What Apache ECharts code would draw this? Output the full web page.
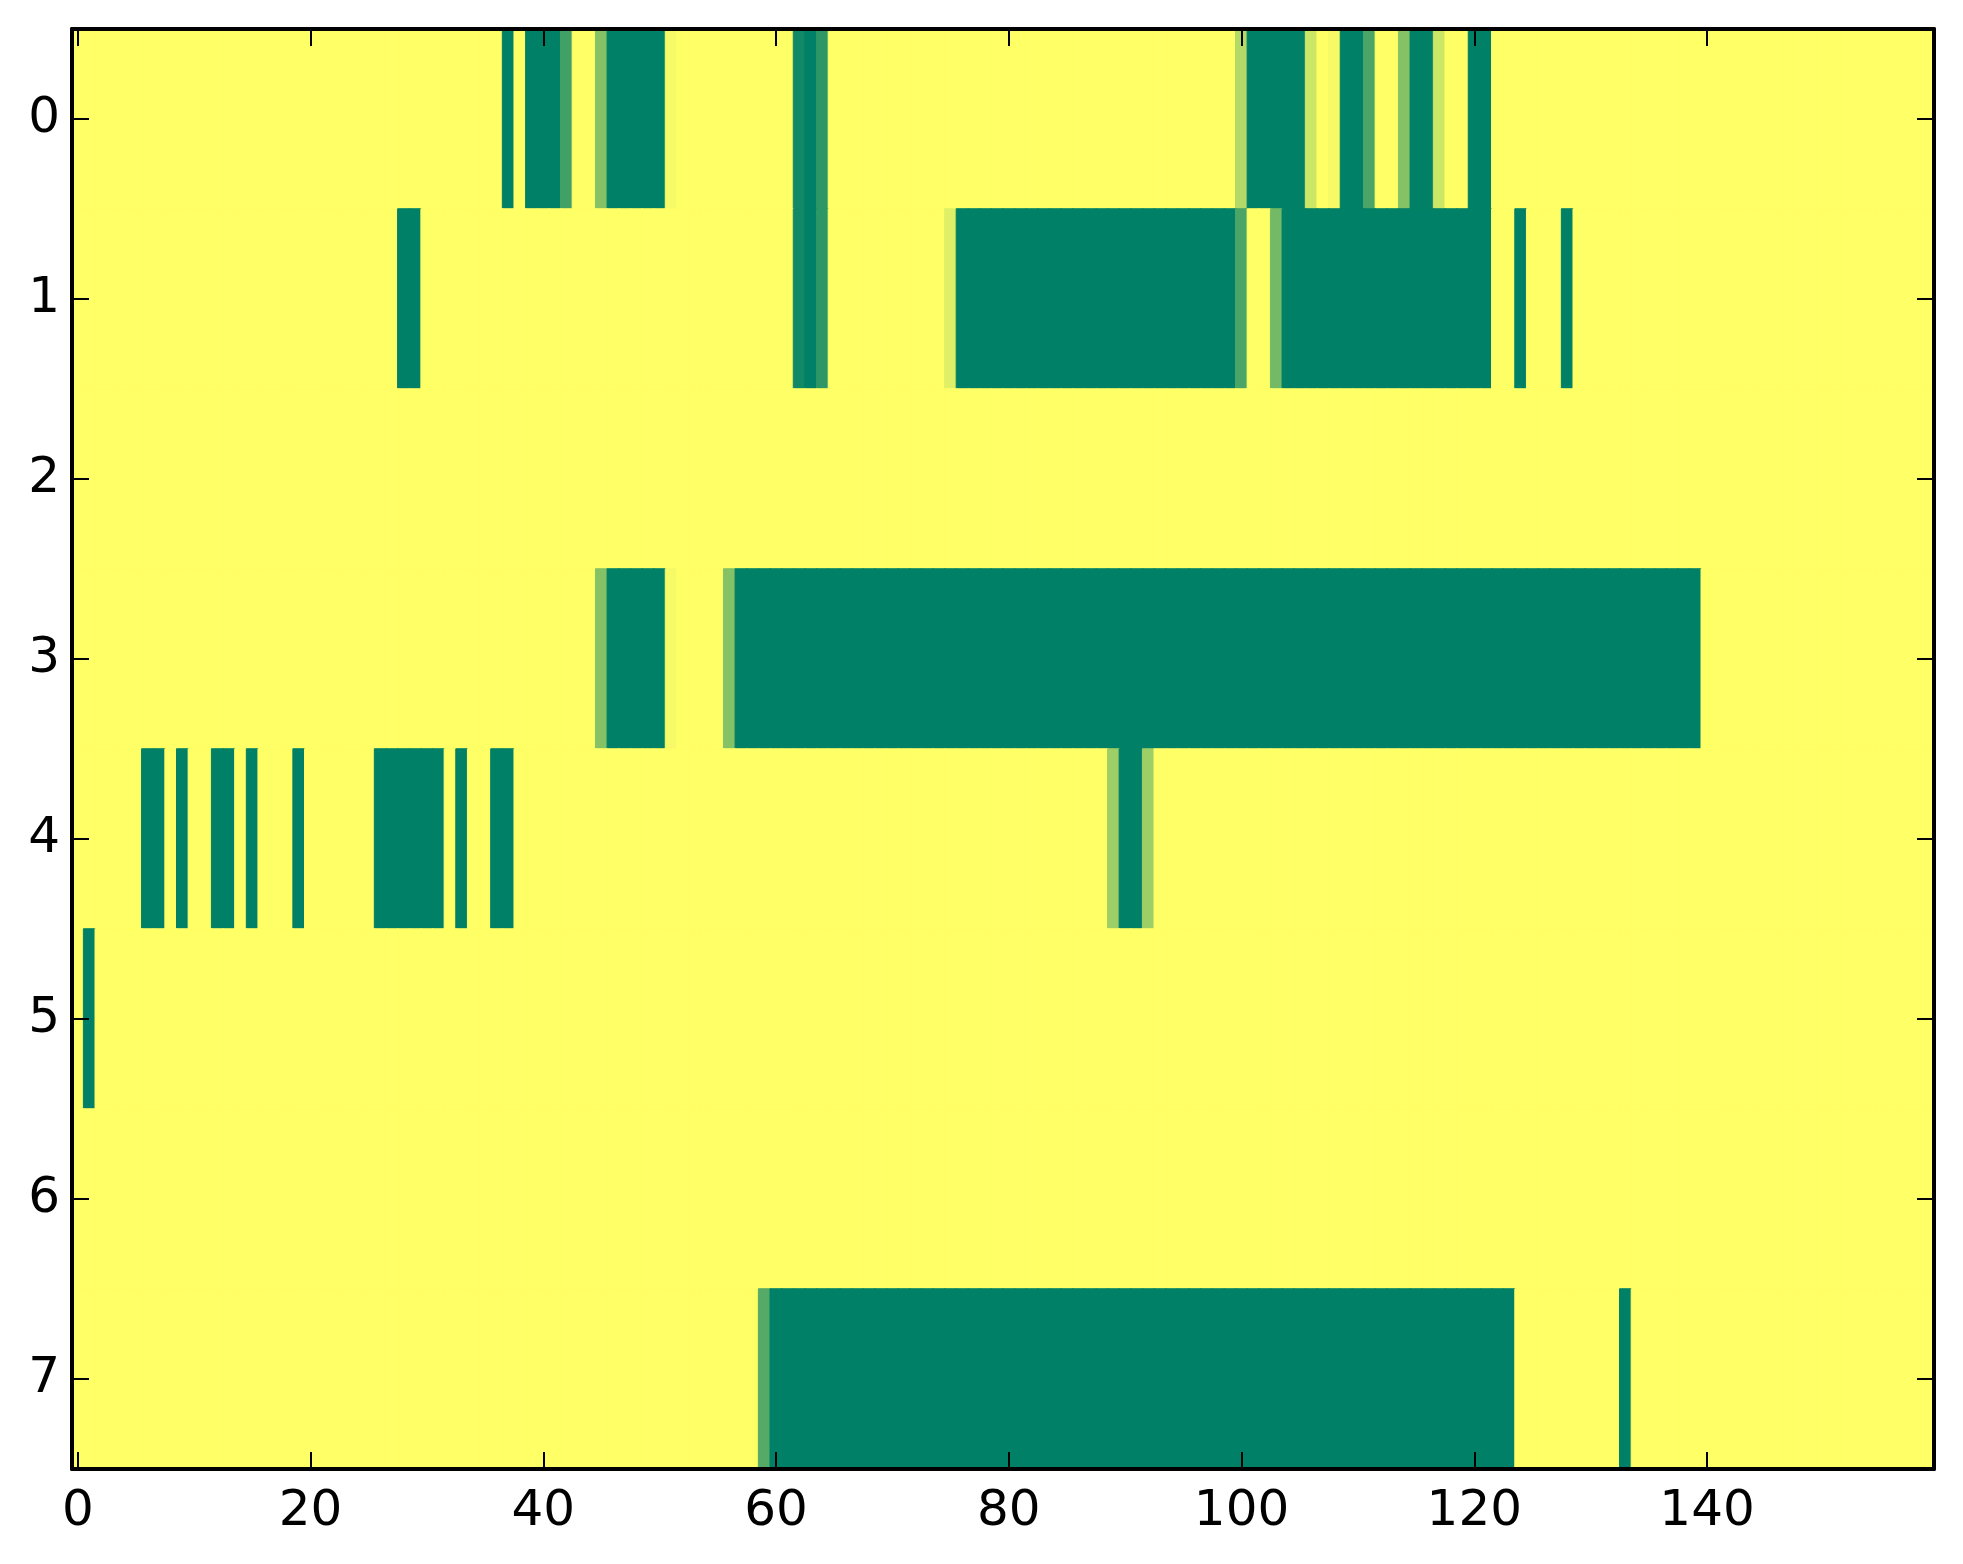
<!DOCTYPE html>
<html lang="en">
  <head>
    <meta charset="UTF-8" />
    <title>Heatmap</title>
    <style>
      html, body { margin: 0; padding: 0; background: #fff; }
    </style>
  </head>
  <body>
    <div id="main" style="width: 1963px; height: 1564px"></div>
    <script src="https://cdn.jsdelivr.net/npm/echarts@6/dist/echarts.min.js"></script>
    <script>
      // one string per row, 160 cells, written in groups of ten
      // '.' = 0, '#' = 1, letters = the in-between shades below
      const shade = { '.': 0, a: 0.04, b: 0.12, c: 0.2, d: 0.3, e: 0.38, f: 0.48, g: 0.55, h: 0.67, i: 0.71, j: 0.75, k: 0.82, l: 0.93, '#': 1 }

      const row0 = '.......... .......... .......... .......#.# ##j..f#### #a........ ..l#k..... .......... .......... .......... d#####c.a# #i..f##c.. ##........ .......... .......... ..........'
      const row1 = '.......... .......... ........## .......... .......... .......... ..l#k..... .....b#### ########## ########## i..g###### ########## ##..#...#. .......... .......... ..........'
      const row2 = '.......... .......... .......... .......... .......... .......... .......... .......... .......... .......... .......... .......... .......... .......... .......... ..........'
      const row3 = '.......... .......... .......... .......... .....f#### #a....f### ########## ########## ########## ########## ########## ########## ########## ########## .......... ..........'
      const row4 = '......##.# ..##.#...# ......#### ##.#..##.. .......... .......... .......... .......... .........e ##e....... .......... .......... .......... .......... .......... ..........'
      const row5 = '.#........ .......... .......... .......... .......... .......... .......... .......... .......... .......... .......... .......... .......... .......... .......... ..........'
      const row6 = '.......... .......... .......... .......... .......... .......... .......... .......... .......... .......... .......... .......... .......... .......... .......... ..........'
      const row7 = '.......... .......... .......... .......... .......... .........h ########## ########## ########## ########## ########## ########## ####...... ...#...... .......... ..........'

      const rows = [row0, row1, row2, row3, row4, row5, row6, row7]
      const yLabels = ['0', '1', '2', '3', '4', '5', '6', '7']
      const xLabelStep = 20

      const ramp = ['#ffff66', '#008066'] // summer_r

      const cells = []
      rows.forEach((r, y) => {
        r.replace(/ /g, '').split('').forEach((ch, x) => {
          const v = shade[ch]
          // border in the same colour closes the hairline seams between cells
          cells.push({ value: [x, y, v], itemStyle: { borderColor: echarts.color.lerp(v, ramp), borderWidth: 1 } })
        })
      })
      const xCats = rows[0].replace(/ /g, '').split('').map((_, i) => String(i))

      const font = { color: '#000', fontFamily: 'DejaVu Sans', fontSize: 50 }
      const line = { show: true, onZero: false, lineStyle: { color: '#000', width: 4 } }
      const tickStyle = { color: '#000', width: 2 }
      const showEvery = i => i % xLabelStep === 0

      const xBase = {
        type: 'category',
        data: xCats,
        zlevel: 1,
        z: 10,
        axisLine: line,
        axisTick: { show: true, inside: true, length: 17, alignWithLabel: true, interval: showEvery, lineStyle: tickStyle },
        splitLine: { show: false }
      }
      const yBase = {
        type: 'category',
        data: yLabels,
        inverse: true,
        zlevel: 1,
        z: 10,
        axisLine: line,
        axisTick: { show: true, inside: true, length: 17, alignWithLabel: true, interval: 0, lineStyle: tickStyle },
        splitLine: { show: false }
      }

      const myChart = echarts.init(document.getElementById('main'), null, { renderer: 'canvas' })

      myChart.setOption({
        backgroundColor: '#fff',
        animation: false,
        grid: { left: 72, top: 29, width: 1862, height: 1440 },
        visualMap: {
          show: false,
          min: 0,
          max: 1,
          dimension: 2,
          inRange: { color: ramp }
        },
        xAxis: [
          Object.assign({}, xBase, { position: 'bottom', axisLabel: Object.assign({ show: true, interval: showEvery, margin: 18 }, font) }),
          Object.assign({}, xBase, { position: 'top', axisLabel: { show: false } })
        ],
        yAxis: [
          Object.assign({}, yBase, { position: 'left', axisLabel: Object.assign({ show: true, interval: 0, margin: 12 }, font) }),
          Object.assign({}, yBase, { position: 'right', axisLabel: { show: false } })
        ],
        series: [
          {
            type: 'heatmap',
            xAxisIndex: 0,
            yAxisIndex: 0,
            zlevel: 0,
            z: 1,
            data: cells,
            progressive: 0,
            emphasis: { disabled: true }
          }
        ]
      })
    </script>
  </body>
</html>
